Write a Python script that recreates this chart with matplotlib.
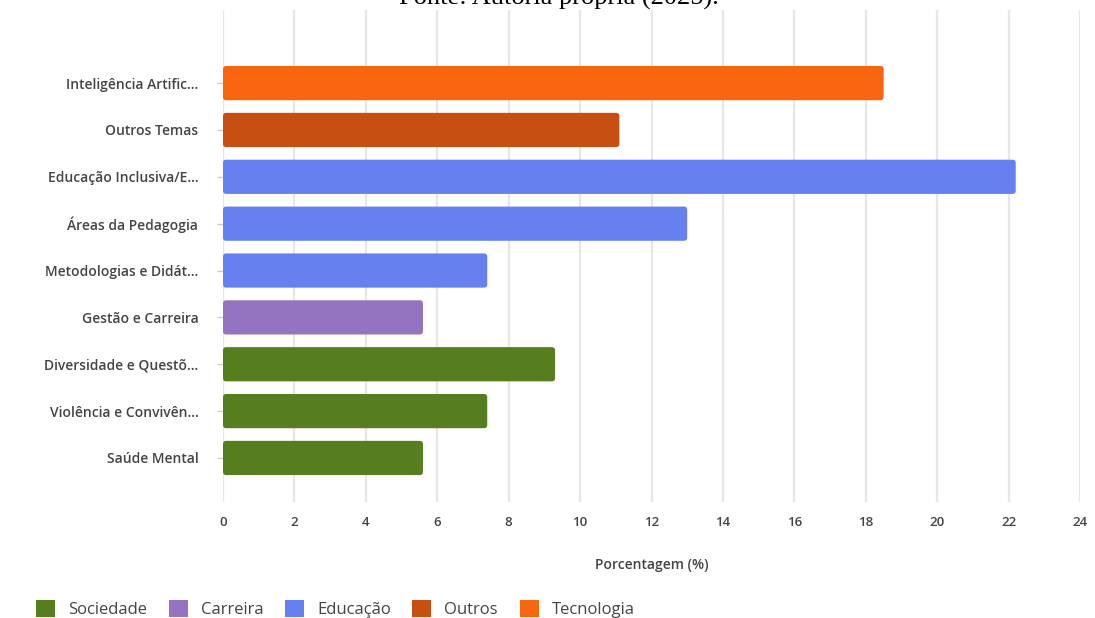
import matplotlib.pyplot as plt
from matplotlib.patches import FancyBboxPatch, Patch

# data (bottom to top)
temas = ['Saúde Mental', 'Violência e Convivên...', 'Diversidade e Questõ...',
         'Gestão e Carreira', 'Metodologias e Didát...', 'Áreas da Pedagogia',
         'Educação Inclusiva/E...', 'Outros Temas', 'Inteligência Artific...']
porcentagem = [5.6, 7.4, 9.3, 5.6, 7.4, 13.0, 22.2, 11.1, 18.5]
grupo = ['Sociedade', 'Sociedade', 'Sociedade', 'Carreira', 'Educação',
         'Educação', 'Educação', 'Outros', 'Tecnologia']

grupos = ['Sociedade', 'Carreira', 'Educação', 'Outros', 'Tecnologia']
cores = {'Sociedade': '#567d1e', 'Carreira': '#9473c0', 'Educação': '#6780ef',
         'Outros': '#c84f12', 'Tecnologia': '#f8650e'}

plt.rcParams['font.family'] = ['Open Sans', 'DejaVu Sans']

fig = plt.figure(figsize=(10.95, 6.18), dpi=100)
ax = fig.add_axes([223 / 1095, 1 - 502 / 618, 857 / 1095, 492 / 618])

bars = ax.barh(range(len(temas)), porcentagem, height=0.73,
               color=[cores[g] for g in grupo], zorder=3)

# swap plain bars for slightly rounded ones
asp = (1 / 46.9) / (1 / 35.7)
for b in bars:
    x, y = b.get_x(), b.get_y()
    w, h = b.get_width(), b.get_height()
    b.remove()
    ax.add_patch(FancyBboxPatch((x, y), w, h,
                                boxstyle='round,pad=0,rounding_size=0.09',
                                mutation_aspect=asp, fc=b.get_facecolor(),
                                ec='none', zorder=3))

ax.set_xlim(0, 24)
ax.set_ylim(-0.94, 9.56)
ax.set_xticks(range(0, 25, 2))
ax.set_yticks(range(len(temas)))
ax.set_yticklabels(temas)
ax.grid(axis='x', color='#e6e6e6', linewidth=1.6, zorder=0)
for s in ax.spines.values():
    s.set_visible(False)

ax.tick_params(axis='x', length=0, pad=10, labelsize=9.5, labelcolor='#444444')
ax.tick_params(axis='y', length=4.3, width=1, color='#cccccc', pad=13.5,
               labelsize=10, labelcolor='#444444')
for lab in ax.get_xticklabels() + ax.get_yticklabels():
    lab.set_fontweight('semibold')

ax.set_xlabel('Porcentagem (%)', fontsize=10, fontweight='semibold',
              color='#444444', labelpad=21)

fig.text(559 / 1095, 1 - 5 / 618, 'Fonte: Autoria própria (2025).',
         family='Liberation Serif', fontsize=19, ha='center', va='baseline')

handles = [Patch(facecolor=cores[g], edgecolor='none', label=g) for g in grupos]
fig.legend(handles=handles, loc='center left', ncol=5, frameon=False,
           bbox_to_anchor=(21 / 1095, 1 - 609 / 618), fontsize=12,
           handlelength=1.14, handleheight=1.14, handletextpad=0.78,
           columnspacing=1.3, labelcolor='#444444')

fig.savefig('out.png', dpi=100)
